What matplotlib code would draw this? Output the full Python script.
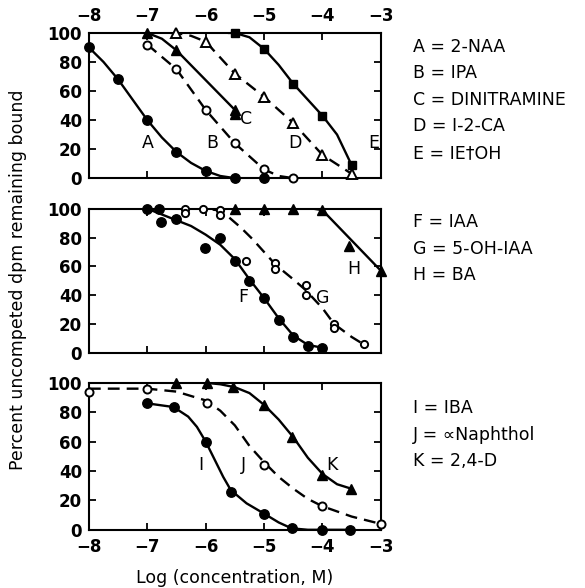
import matplotlib
matplotlib.use("Agg")
import matplotlib.pyplot as plt

plt.rcParams['font.family'] = ['DejaVu Sans']

# --- painel 1: A-E ---
a_x = [-8, -7.5, -7, -6.5, -6, -5.5, -5]
a_y = [90, 68, 40, 18, 5, 0, 0]
a_cx = [-8, -7.75, -7.5, -7.25, -7, -6.75, -6.5, -6.25, -6, -5.75, -5.5, -5]
a_cy = [90, 80, 68, 54, 40, 28, 18, 10.5, 5, 1.5, 0, 0]

b_x = [-7, -6.5, -6, -5.5, -5, -4.5]
b_y = [92, 75, 47, 24, 6, 0]
b_cx = [-7, -6.5, -6, -5.5, -5, -4.75, -4.5]
b_cy = [92, 75, 47, 24, 6, 1.5, 0]

c_x = [-7, -6.5, -5.5, -5.5]
c_y = [100, 88, 47, 44]
c_cx = [-7, -6.75, -6.5, -5.5]
c_cy = [100, 96, 88, 47]

d_x = [-6.5, -6, -5.5, -5, -4.5, -4, -3.5]
d_y = [100, 94, 72, 56, 38, 16, 3]
d_cx = [-6.6, -6.5, -6.25, -6, -5.5, -5, -4.5, -4, -3.5]
d_cy = [100, 100, 98, 94, 72, 56, 38, 16, 3]

e_x = [-5.5, -5, -4.5, -4, -3.5]
e_y = [100, 89, 65, 43, 9]
e_cx = [-5.6, -5.5, -5.25, -5, -4.75, -4.5, -4, -3.75, -3.5]
e_cy = [100, 100, 97, 89, 78, 65, 43, 30, 9]

# --- painel 2: F-H ---
f_x = [-7, -6.8, -6.76, -6.5, -6.02, -5.75, -5.5, -5.25, -5, -4.75, -4.5, -4.25, -4]
f_y = [100, 100, 91, 93, 73, 80, 64, 50, 38, 23, 11, 5, 3.5]
f_cx = [-7, -6.75, -6.5, -6.25, -6, -5.75, -5.5, -5.25, -5, -4.75, -4.5, -4.25, -4]
f_cy = [100, 96, 92, 88, 82, 75, 65, 51, 38, 24, 12, 5.5, 3.5]

g_x = [-6.35, -6.35, -6.04, -5.75, -5.75, -5.31, -4.81, -4.81, -4.29, -4.29, -3.8, -3.8, -3.29]
g_y = [100, 97, 100, 99, 96, 64, 62, 58, 47, 40, 20, 17, 6]
g_cx = [-6.85, -6.35, -6.0, -5.8, -5.6, -5.4, -5.2, -5.0, -4.8, -4.5, -4.3, -4.0, -3.8, -3.5, -3.3]
g_cy = [100, 100, 100, 99, 94, 87, 79, 70, 61, 51, 44, 31, 20, 11, 6]

h_x = [-5.5, -5, -4.5, -4, -3.54, -3]
h_y = [100, 100, 100, 99, 74, 57]
h_cx = [-5.5, -5, -4.5, -4.15, -4, -3]
h_cy = [100, 100, 100, 100, 99, 57]

# --- painel 3: I-K ---
i_x = [-7, -6.55, -6, -5.57, -5, -4.53, -4, -3.53]
i_y = [86, 83.5, 60, 26, 11, 1, 0, 0]
i_cx = [-7, -6.55, -6.3, -6.15, -6, -5.85, -5.7, -5.57, -5.3, -5, -4.75, -4.53, -4.25, -4, -3.53]
i_cy = [86, 83.5, 77, 70, 60, 48, 36, 27, 18, 11, 5, 1, 0, 0, 0]

j_x = [-8, -7.01, -5.97, -5, -4, -3]
j_y = [94, 96, 86, 44, 16, 4]
j_cx = [-8, -7.5, -7, -6.5, -6, -5.75, -5.5, -5.25, -5, -4.75, -4.5, -4.25, -4, -3.5, -3]
j_cy = [96, 96, 96, 94, 88, 81, 71, 57, 46, 36, 28, 21, 16, 9, 4]

k_x = [-6.51, -5.98, -5.53, -5, -4.53, -4.01, -3.51]
k_y = [100, 100, 97, 85, 63, 37, 28]
k_cx = [-6.5, -6, -5.75, -5.5, -5.25, -5, -4.75, -4.5, -4.25, -4, -3.75, -3.51]
k_cy = [100, 100, 99, 97, 93, 85, 75, 63, 49, 38, 31, 28]

legend1 = ["A = 2-NAA", "B = IPA", "C = DINITRAMINE", "D = I-2-CA", "E = IE\u2020OH"]
legend2 = ["F = IAA", "G = 5-OH-IAA", "H = BA"]
legend3 = ["I = IBA", "J = \u221dNaphthol", "K = 2,4-D"]

TXT = 12.5
LW = 1.7
DASH = (0, (5, 3))

fig = plt.figure(figsize=(5.85, 5.88), dpi=100)
left, width = 0.152, 0.499
ax1 = fig.add_axes([left, 0.697, width, 0.247])
ax2 = fig.add_axes([left, 0.400, width, 0.245])
ax3 = fig.add_axes([left, 0.099, width, 0.250])

def style(ax, top_labels=False, bottom_labels=False):
    ax.set_xlim(-8, -3)
    ax.set_ylim(0, 100)
    ax.set_yticks([0, 20, 40, 60, 80, 100])
    ax.set_xticks([-8, -7, -6, -5, -4, -3])
    ax.set_xticklabels(["\u22128", "\u22127", "\u22126", "\u22125", "\u22124", "\u22123"])
    ax.tick_params(direction='in', length=5, width=1.3, top=True, right=True,
                   labeltop=top_labels, labelbottom=bottom_labels,
                   labelsize=12)
    ax.tick_params(axis='y', pad=5)
    ax.tick_params(axis='x', pad=6)
    for lab in ax.get_xticklabels() + ax.get_yticklabels():
        lab.set_fontweight('bold')
    for s in ax.spines.values():
        s.set_linewidth(1.5)

def filled(ax, x, y, m, ms=6.8):
    ax.plot(x, y, linestyle='none', marker=m, color='black', markersize=ms, clip_on=False, zorder=4)

def hollow(ax, x, y, m, ms=5.8):
    ax.plot(x, y, linestyle='none', marker=m, markerfacecolor='white',
            markeredgecolor='black', markeredgewidth=1.4, markersize=ms, clip_on=False, zorder=4)

# painel 1
ax1.plot(a_cx, a_cy, color='black', lw=LW)
filled(ax1, a_x, a_y, 'o')
ax1.plot(b_cx, b_cy, color='black', lw=LW, linestyle=DASH)
hollow(ax1, b_x, b_y, 'o')
ax1.plot(c_cx, c_cy, color='black', lw=LW)
filled(ax1, c_x, c_y, '^', 6.5)
ax1.plot(d_cx, d_cy, color='black', lw=LW, linestyle=DASH)
hollow(ax1, d_x, d_y, '^', 6.5)
ax1.plot(e_cx, e_cy, color='black', lw=LW)
filled(ax1, e_x, e_y, 's', 6)
for lab, x, y in [("A", -7, 24), ("B", -5.88, 24), ("C", -5.3, 41), ("D", -4.47, 24), ("E", -3.12, 24)]:
    ax1.text(x, y, lab, fontsize=TXT, ha='center', va='center')
style(ax1, top_labels=True)

# painel 2
ax2.plot(f_cx, f_cy, color='black', lw=LW)
filled(ax2, f_x, f_y, 'o')
ax2.plot(g_cx, g_cy, color='black', lw=LW, linestyle=DASH)
hollow(ax2, g_x, g_y, 'o', 5.2)
ax2.plot(h_cx, h_cy, color='black', lw=LW)
filled(ax2, h_x, h_y, '^', 6.5)
for lab, x, y in [("F", -5.35, 39), ("G", -4.0, 38), ("H", -3.46, 58)]:
    ax2.text(x, y, lab, fontsize=TXT, ha='center', va='center')
style(ax2)

# painel 3
ax3.plot(i_cx, i_cy, color='black', lw=LW)
filled(ax3, i_x, i_y, 'o')
ax3.plot(j_cx, j_cy, color='black', lw=LW, linestyle=DASH)
hollow(ax3, j_x, j_y, 'o')
ax3.plot(k_cx, k_cy, color='black', lw=LW)
filled(ax3, k_x, k_y, '^', 6.5)
for lab, x, y in [("I", -6.09, 44), ("J", -5.35, 44), ("K", -3.83, 44)]:
    ax3.text(x, y, lab, fontsize=TXT, ha='center', va='center')
style(ax3, bottom_labels=True)
ax3.set_xlabel("Log (concentration, M)", fontsize=TXT, labelpad=9)

# legendas em texto a direita
def legend_text(items, y0, step=26.5):
    for k, t in enumerate(items):
        fig.text(413 / 585, 1 - (y0 + k * step) / 588, t, fontsize=TXT, ha='left', va='center')

legend_text(legend1, 47)
legend_text(legend2, 222)
legend_text(legend3, 408)

fig.text(18 / 585, 1 - 280 / 588, "Percent uncompeted dpm remaining bound",
         rotation=90, fontsize=TXT, ha='center', va='center')

fig.savefig("out.png", dpi=100)
